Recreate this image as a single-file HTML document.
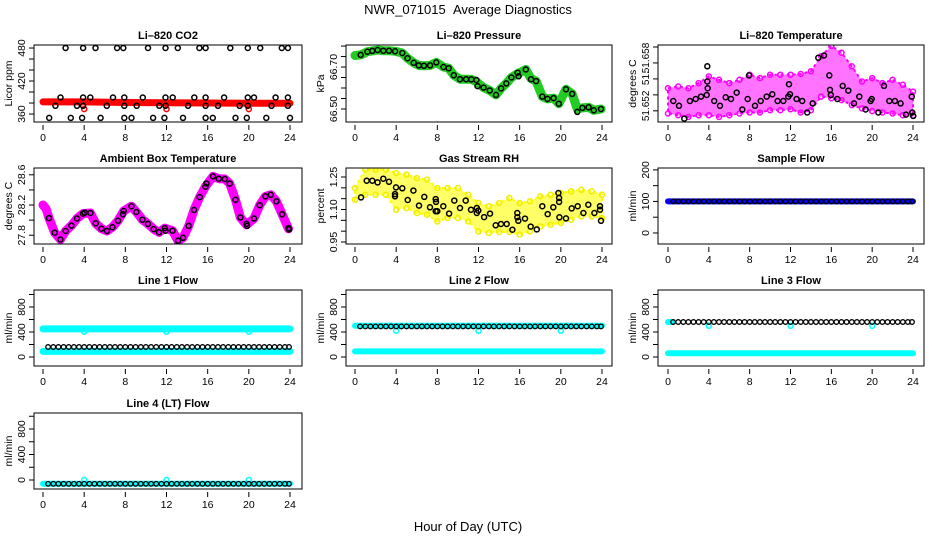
<!DOCTYPE html>
<html><head><meta charset="utf-8"><style>
html,body{margin:0;padding:0;background:#fff;}
svg{display:block;font-family:"Liberation Sans",Arial,sans-serif;}
</style></head><body>
<svg id="chart" width="936" height="540" viewBox="0 0 936 540" xmlns="http://www.w3.org/2000/svg">
<text x="468" y="14" text-anchor="middle" font-size="13">NWR_071015&#160;&#160;Average Diagnostics</text>
<text x="468" y="531" text-anchor="middle" font-size="13">Hour of Day (UTC)</text>
</svg>
<script>
// ---- data ----
const xTicks=[0,4,8,12,16,20,24];
const xTickLabels=["0","4","8","12","16","20","24"];
// CO2
const co2T=[2.2,3.9,5.1,7.2,7.8,10.2,11.9,13.1,15.2,15.8,18.2,19.9,21.1,23.2,23.8, 1.7,3.9,4.6,6.8,7.9,9.7,11.9,12.6,14.7,15.8,17.6,19.9,20.5,22.6,23.8, 1.2,3.3,3.9,6.2,7.9,9.1,11.3,11.9,14.1,15.8,17.0,19.1,19.9,22.2,23.8, 0.6,2.7,3.8,5.6,7.9,8.6,10.7,11.8,13.6,15.8,16.5,18.7,19.8,21.7,24.0];
const co2V=[480,480,480,480,480,480,480,480,480,480,480,480,480,480,480, 390,390,390,390,390,390,390,390,390,390,390,390,390,390,390, 375,375,375,375,375,375,375,375,375,375,375,375,375,375,375, 353,353,353,353,353,353,353,353,353,353,353,353,353,353,353];
const co2BandT=[0,4,8,12,16,20,24];
const co2BandV=[382,382,381,380.5,380,379.5,379.5];
const co2OutT=[4,12,20];
const co2OutV=[369,369,369];
// Pressure
const presT=[0.55,1.2,1.68,2.2,2.75,3.3,3.9,4.6,5.1,5.7,6.2,6.7,7.3,7.9,8.6,9.1,9.6,10.2,10.8,11.3,11.8,11.9,12.5,13.1,13.7,14.2,14.7,15.2,15.8,15.9,16.6,17.1,17.6,18.2,18.7,19.3,19.8,20.5,21.1,21.6,22.1,22.7,23.2,23.9];
const presV=[66.758,66.773,66.777,66.781,66.778,66.778,66.775,66.767,66.742,66.720,66.708,66.706,66.708,66.722,66.700,66.694,66.661,66.642,66.642,66.641,66.638,66.609,66.602,66.588,66.567,66.598,66.622,66.650,66.673,66.656,66.688,66.642,66.633,66.559,66.548,66.552,66.525,66.594,66.572,66.486,66.505,66.508,66.494,66.500];
const presBandT=[0,0.55,1.2,1.68,2.2,2.75,3.3,3.9,4.6,5.1,5.7,6.2,6.7,7.3,7.9,8.6,9.1,9.6,10.2,10.8,11.3,11.8,12.5,13.1,13.7,14.2,14.7,15.2,15.8,16.6,17.1,17.6,18.2,18.7,19.3,19.8,20.5,21.1,21.6,22.1,22.7,23.2,23.9];
const presBandV=[66.755,66.758,66.773,66.777,66.781,66.778,66.778,66.775,66.767,66.742,66.720,66.708,66.706,66.708,66.722,66.700,66.694,66.661,66.642,66.642,66.641,66.630,66.602,66.588,66.567,66.598,66.622,66.650,66.668,66.688,66.645,66.633,66.559,66.548,66.552,66.525,66.594,66.572,66.500,66.505,66.508,66.494,66.500];
// Li-820 temperature
const tempT=[0.52,1.08,1.6,2.15,2.71,3.23,3.79,3.85,3.89,3.85,4.53,5.09,5.65,6.17,6.73,7.28,7.81,7.93,8.52,9.08,9.67,10.22,10.74,11.29,11.78,11.85,11.95,12.6,13.15,13.64,14.17,14.72,15.28,15.8,15.87,15.96,16.58,17.11,17.66,18.22,18.74,19.36,19.85,19.95,20.6,21.16,21.68,22.23,22.79,23.31,23.87,23.93,24.03];
const tempV=[51.65323,51.65263,51.65103,51.65323,51.65348,51.65378,51.65399,51.65568,51.65483,51.65758,51.65323,51.65263,51.65369,51.65348,51.65428,51.65217,51.65348,51.65644,51.65263,51.65323,51.65378,51.65407,51.65323,51.65323,51.65378,51.65534,51.65407,51.65348,51.65323,51.65179,51.65293,51.65864,51.65894,51.65644,51.65462,51.65399,51.65348,51.65513,51.65454,51.65293,51.65378,51.65217,51.65323,51.65348,51.65179,51.65513,51.65323,51.65323,51.65293,51.65153,51.65378,51.65179,51.65137];
const hourT=[0,1,2,3,4,5,6,7,8,9,10,11,12,13,14,15,16,17,18,19,20,21,22,23,24];
const tempHi=[51.65483,51.65505,51.65483,51.65547,51.65631,51.65589,51.65547,51.65589,51.65653,51.6561,51.65653,51.65653,51.65653,51.65661,51.65695,51.65885,51.66012,51.65928,51.65758,51.65568,51.6561,51.65547,51.65589,51.65526,51.65441];
const tempLo=[51.65166,51.65145,51.65124,51.65145,51.65145,51.65124,51.65145,51.65166,51.65179,51.65179,51.65208,51.65208,51.65221,51.65179,51.65208,51.65378,51.65357,51.65335,51.65272,51.6523,51.65196,51.65179,51.65166,51.65145,51.65137];
// Ambient box temperature
const ambT=[0.58,1.14,1.69,2.2,2.76,3.3,3.89,4.05,4.61,5.12,5.67,6.22,6.74,7.29,7.77,7.84,8.59,9.08,9.66,10.2,10.76,11.27,11.83,11.9,12.58,13.12,13.6,14.16,14.67,15.23,15.78,15.88,16.52,17.08,17.66,18.14,18.7,19.18,19.77,19.83,20.5,21.06,21.61,22.13,22.68,23.23,23.85,23.91];
const ambV=[28.027,27.834,27.744,27.856,27.928,28.022,28.087,28.099,28.095,27.958,27.886,27.856,27.907,27.993,28.078,28.121,28.185,28.108,28.005,27.950,27.881,27.839,27.894,27.860,27.860,27.727,27.766,27.924,28.134,28.305,28.442,28.484,28.579,28.549,28.544,28.484,28.271,28.035,27.950,27.924,28.022,28.198,28.314,28.335,28.249,28.078,27.894,27.877];
const ambBandT=[0,0.3,0.58,1.14,1.69,2.2,2.76,3.3,3.89,4.61,5.12,5.67,6.22,6.74,7.29,7.84,8.59,9.08,9.66,10.2,10.76,11.27,11.83,12.58,13.12,13.6,14.16,14.67,15.23,15.78,16.52,17.08,17.66,18.14,18.7,19.18,19.77,20.5,21.06,21.61,22.13,22.68,23.23,23.85];
const ambBandV=[28.2,28.15,28.027,27.834,27.744,27.856,27.928,28.022,28.087,28.095,27.958,27.886,27.856,27.907,27.993,28.121,28.185,28.108,28.005,27.950,27.881,27.839,27.894,27.860,27.727,27.766,27.924,28.134,28.305,28.442,28.579,28.549,28.544,28.484,28.271,28.035,27.937,28.022,28.198,28.314,28.335,28.249,28.078,27.885];
// Gas stream RH
const rhT=[0.58,1.14,1.68,2.2,2.75,3.3,3.98,3.89,3.89,4.6,5.12,5.67,6.22,6.73,7.29,7.84,7.87,7.84,8.0,8.58,9.14,9.65,10.2,10.76,11.27,11.83,11.83,11.98,12.54,13.12,13.67,14.19,14.74,15.29,15.77,15.77,15.87,16.52,17.07,17.66,18.2,18.72,19.27,19.76,19.83,19.83,19.86,20.5,21.06,21.64,22.19,22.67,23.26,23.81,23.81,23.9];
const rhV=[1.156,1.233,1.233,1.225,1.242,1.228,1.202,1.171,1.161,1.198,1.144,1.187,1.118,1.158,1.110,1.148,1.135,1.092,1.092,1.115,1.081,1.141,1.107,1.141,1.099,1.107,1.084,1.095,1.065,1.081,1.027,1.033,1.033,1.007,1.084,1.064,1.048,1.058,1.021,1.008,1.115,1.079,1.110,1.176,1.153,1.135,1.064,1.059,1.105,1.115,1.084,1.122,1.084,1.115,1.099,1.048];
const rhHi=[1.199,1.284,1.284,1.284,1.268,1.261,1.245,1.238,1.199,1.199,1.199,1.168,1.130,1.115,1.130,1.153,1.130,1.138,1.161,1.168,1.176,1.184,1.191,1.184,1.168];
const rhLo=[1.145,1.168,1.168,1.168,1.099,1.107,1.084,1.076,1.045,1.061,1.061,1.045,0.999,0.992,0.996,0.996,0.984,0.999,1.022,1.030,1.038,1.053,1.068,1.068,1.061];
// Flows
const flowT=[0.5,1,1.5,2,2.5,3,3.5,4,4.5,5,5.5,6,6.5,7,7.5,8,8.5,9,9.5,10,10.5,11,11.5,12,12.5,13,13.5,14,14.5,15,15.5,16,16.5,17,17.5,18,18.5,19,19.5,20,20.5,21,21.5,22,22.5,23,23.5,23.9];
const sampleV=[100,100,100,100,100,100,100,100,100,100,100,100,100,100,100,100,100,100,100,100,100,100,100,100,100,100,100,100,100,100,100,100,100,100,100,100,100,100,100,100,100,100,100,100,100,100,100,100];
const line1V=[160,160,160,160,160,160,160,160,160,160,160,160,160,160,160,160,160,160,160,160,160,160,160,160,160,160,160,160,160,160,160,160,160,160,160,160,160,160,160,160,160,160,160,160,160,160,160,160];
const line2V=[490,490,490,490,490,490,490,490,490,490,490,490,490,490,490,490,490,490,490,490,490,490,490,490,490,490,490,490,490,490,490,490,490,490,490,490,490,490,490,490,490,490,490,490,490,490,490,490];
const line3V=[560,560,560,560,560,560,560,560,560,560,560,560,560,560,560,560,560,560,560,560,560,560,560,560,560,560,560,560,560,560,560,560,560,560,560,560,560,560,560,560,560,560,560,560,560,560,560,560];
const line4V=[-60,-60,-60,-60,-60,-60,-60,-60,-60,-60,-60,-60,-60,-60,-60,-60,-60,-60,-60,-60,-60,-60,-60,-60,-60,-60,-60,-60,-60,-60,-60,-60,-60,-60,-60,-60,-60,-60,-60,-60,-60,-60,-60,-60,-60,-60,-60,-60];
const bandT=[0,24];
const sampleBandV=[100,100];
const line1HiBandV=[450,450];
const line1LoBandV=[90,90];
const line2HiBandV=[500,500];
const line2LoBandV=[90,90];
const line3HiBandT=[0,0.5];
const line3HiBandV=[560,560];
const line3LoBandV=[60,60];
const line4BandV=[-60,-60];
const dipT=[4,12,20];
const line1DipV=[405,405,405];
const line2DipV=[420,420,420];
const line3DipV=[500,500,500];
const line4DipV=[0,0,0];

// ---- layout ----
const cols=[{b0:34,b1:302,x0:43,x24:290},{b0:346,b1:612,x0:355,x24:602},{b0:658,b1:924,x0:668,x24:913}];
const rows=[{t:45,b:122},{t:168,b:244},{t:290,b:366},{t:413,b:489}];
const NS="http://www.w3.org/2000/svg";
const svg=document.getElementById('chart');
function mk(tag,attrs,parent){const e=document.createElementNS(NS,tag);for(const k in attrs)e.setAttribute(k,attrs[k]);(parent||svg).appendChild(e);return e;}

const flowTicks=[0,200,400,600,800,1000];
const flowLabels=[[0,"0"],[400,"400"],[800,"800"]];
const panels=[
 {id:"co2",title:"Li\u2013820 CO2",ylab:"Licor ppm",c:0,r:0,ylim:[345.5,485.5],ticks:[360,380,400,420,440,460,480],labels:[[360,"360"],[420,"420"],[480,"480"]]},
 {id:"pressure",title:"Li\u2013820 Pressure",ylab:"kPa",c:1,r:0,ylim:[66.438,66.805],ticks:[66.5,66.55,66.6,66.65,66.7,66.75,66.8],labels:[[66.5,"66.50"],[66.7,"66.70"]]},
 {id:"temperature",title:"Li\u2013820 Temperature",ylab:"degrees C",c:2,r:0,ylim:[51.6506,51.66025],ticks:[51.652,51.654,51.656,51.658,51.66],labels:[[51.65262,"51.652"],[51.6561,"51."],[51.65862,"51.658"]],lfs:10},
 {id:"ambient",title:"Ambient Box Temperature",ylab:"degrees C",c:0,r:1,ylim:[27.684,28.690],ticks:[27.8,28.0,28.2,28.4,28.6],labels:[[27.8,"27.8"],[28.2,"28.2"],[28.6,"28.6"]]},
 {id:"rh",title:"Gas Stream RH",ylab:"percent",c:1,r:1,ylim:[0.9408,1.2915],ticks:[0.95,1.0,1.05,1.1,1.15,1.2,1.25],labels:[[0.95,"0.95"],[1.10,"1.10"],[1.25,"1.25"]]},
 {id:"sample",title:"Sample Flow",ylab:"ml/min",c:2,r:1,ylim:[-35,206],ticks:[0,50,100,150,200],labels:[[0,"0"],[100,"100"],[200,"200"]]},
 {id:"line1",title:"Line 1 Flow",ylab:"ml/min",c:0,r:2,ylim:[-144,1072],ticks:flowTicks,labels:flowLabels},
 {id:"line2",title:"Line 2 Flow",ylab:"ml/min",c:1,r:2,ylim:[-144,1072],ticks:flowTicks,labels:flowLabels},
 {id:"line3",title:"Line 3 Flow",ylab:"ml/min",c:2,r:2,ylim:[-144,1072],ticks:flowTicks,labels:flowLabels},
 {id:"line4",title:"Line 4 (LT) Flow",ylab:"ml/min",c:0,r:3,ylim:[-141,1051],ticks:flowTicks,labels:flowLabels}
];
const P={};
panels.forEach(p=>{
  const C=cols[p.c],R=rows[p.r];
  const sx=t=>C.x0+(t/24)*(C.x24-C.x0);
  const sy=v=>R.b-(v-p.ylim[0])/(p.ylim[1]-p.ylim[0])*(R.b-R.t);
  const g=mk('g',{});
  
  
  const cp=mk('clipPath',{id:'cp-'+p.id},g);
  mk('rect',{x:C.b0,y:R.t,width:C.b1-C.b0,height:R.b-R.t},cp);
  const data=mk('g',{'clip-path':'url(#cp-'+p.id+')'},g);
  
  
  const box=mk('rect',{x:C.b0,y:R.t,width:C.b1-C.b0,height:R.b-R.t,fill:'none',stroke:'#000','stroke-width':1},g);
  
  
  const tt=mk('text',{x:(C.b0+C.b1)/2,y:R.t-6,'text-anchor':'middle','font-size':11,'font-weight':'bold'},g);
  tt.textContent=p.title;
  
  
  const yl=mk('text',{transform:`translate(${C.b0-22},${(R.t+R.b)/2}) rotate(-90)`,'text-anchor':'middle','font-size':10.5},g);
  yl.textContent=p.ylab;
  
  
  xTicks.forEach((t,i)=>{
    const x=sx(t);
    const tk=mk('line',{x1:x,x2:x,y1:R.b+3,y2:R.b+8,stroke:'#000','stroke-width':1},g);
    
    
    const lb=mk('text',{x:x,y:R.b+19,'text-anchor':'middle','font-size':10.5},g);
    lb.textContent=xTickLabels[i];
    
    
  });
  p.ticks.forEach(v=>{
    const y=sy(v);
    const tk=mk('line',{x1:C.b0-5,x2:C.b0,y1:y,y2:y,stroke:'#000','stroke-width':1},g);
    
    
  });
  p.labels.forEach(([v,s])=>{
    const lb=mk('text',{transform:`translate(${C.b0-9},${sy(v)}) rotate(-90)`,'text-anchor':'middle','font-size':p.lfs||10.5},g);
    lb.textContent=s;
    
    
  });
  P[p.id]={sx,sy,g:data};
});

function band(id,T,V,color,w,name){
  const {sx,sy,g}=P[id];
  const d=T.map((t,i)=>(i?'L':'M')+sx(t).toFixed(1)+','+sy(V[i]).toFixed(1)).join('');
  const e=mk('path',{d:d,fill:'none',stroke:color,'stroke-width':w,'stroke-linecap':'round','stroke-linejoin':'round'},g);
  
  
}
function area(id,T,Hi,Lo,color,op,name){
  const {sx,sy,g}=P[id];
  let d=T.map((t,i)=>(i?'L':'M')+sx(t).toFixed(1)+','+sy(Hi[i]).toFixed(1)).join('');
  for(let i=T.length-1;i>=0;i--)d+='L'+sx(T[i]).toFixed(1)+','+sy(Lo[i]).toFixed(1);
  const e=mk('path',{d:d+'Z',fill:color,'fill-opacity':op,stroke:color,'stroke-width':2,'stroke-dasharray':'3 3'},g);
  
  
}
function pts(id,T,V,color,r,sw,name){
  const {sx,sy,g}=P[id];
  T.forEach((t,i)=>{
    const c=mk('circle',{cx:sx(t).toFixed(1),cy:sy(V[i]).toFixed(1),r:r,fill:'none',stroke:color,'stroke-width':sw},g);
    
    
  });
}
band('co2',co2BandT,co2BandV,'#ff0000',7,'co2-raw-band');
pts('co2',co2OutT,co2OutV,'#ff0000',2.5,1.5,'co2-raw-point');
pts('co2',co2T,co2V,'#000',2.5,1.5,'co2-average-point');
band('pressure',presBandT,presBandV,'#22cc22',9,'pressure-raw-band');
pts('pressure',presT,presV,'#000',2.5,1.5,'pressure-average-point');
area('temperature',hourT,tempHi,tempLo,'#ff00ff',0.55,'temperature-raw-cloud');
pts('temperature',hourT,tempHi,'#ff00ff',2.5,1.5,'temperature-raw-point');
pts('temperature',hourT,tempLo,'#ff00ff',2.5,1.5,'temperature-raw-point');
pts('temperature',tempT,tempV,'#000',2.5,1.5,'temperature-average-point');
band('ambient',ambBandT,ambBandV,'#ff00ff',9,'ambient-raw-band');
pts('ambient',ambT,ambV,'#000',2.5,1.5,'ambient-average-point');
area('rh',hourT,rhHi,rhLo,'#ffff00',0.6,'rh-raw-cloud');
pts('rh',hourT,rhHi,'#eeee00',2.5,1.5,'rh-raw-point');
pts('rh',hourT,rhLo,'#eeee00',2.5,1.5,'rh-raw-point');
pts('rh',rhT,rhV,'#000',2.5,1.5,'rh-average-point');
band('sample',bandT,sampleBandV,'#0000ff',6,'sample-raw-band');
pts('sample',flowT,sampleV,'#000',2.3,1.3,'sample-average-point');
band('line1',bandT,line1HiBandV,'#00ffff',7,'line1-raw-high-band');
band('line1',bandT,line1LoBandV,'#00ffff',7,'line1-raw-low-band');
pts('line1',dipT,line1DipV,'#00ffff',2.5,1.5,'line1-raw-point');
pts('line1',flowT,line1V,'#000',2.3,1.3,'line1-average-point');
band('line2',bandT,line2HiBandV,'#00ffff',6,'line2-raw-high-band');
band('line2',bandT,line2LoBandV,'#00ffff',6,'line2-raw-low-band');
pts('line2',dipT,line2DipV,'#00ffff',2.5,1.5,'line2-raw-point');
pts('line2',flowT,line2V,'#000',2.3,1.3,'line2-average-point');
band('line3',line3HiBandT,line3HiBandV,'#00ffff',6,'line3-raw-high-band');
band('line3',bandT,line3LoBandV,'#00ffff',6,'line3-raw-low-band');
pts('line3',dipT,line3DipV,'#00ffff',2.5,1.5,'line3-raw-point');
pts('line3',flowT,line3V,'#000',2.3,1.3,'line3-average-point');
band('line4',bandT,line4BandV,'#00ffff',6,'line4-raw-band');
pts('line4',dipT,line4DipV,'#00ffff',2.5,1.5,'line4-raw-point');
pts('line4',flowT,line4V,'#000',2.3,1.3,'line4-average-point');
</script>
</body></html>
